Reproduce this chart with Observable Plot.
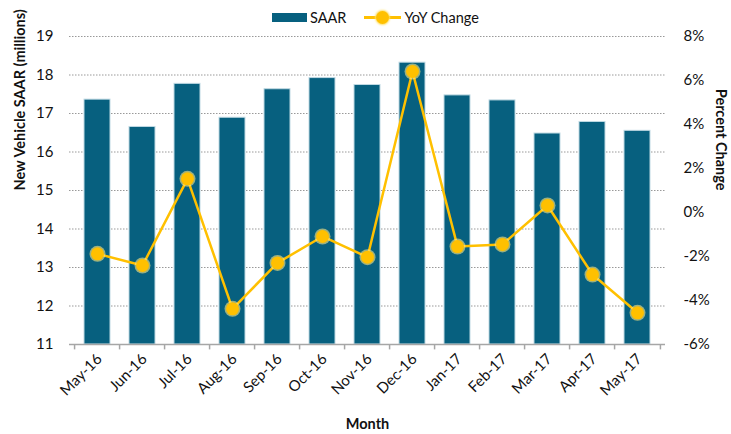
<!DOCTYPE html>
<html>
<head>
<meta charset="utf-8">
<script src="https://cdn.jsdelivr.net/npm/d3@7"></script>
<script src="https://cdn.jsdelivr.net/npm/@observablehq/plot@0.6"></script>
<style>
  html, body { margin: 0; padding: 0; background: #fff; }
  #wrap { position: relative; width: 731px; height: 434px; font-family: Lato, "Open Sans", sans-serif; }
  #legend { position: absolute; top: 9px; left: 272px; display: flex; align-items: center; font-size: 14.5px; color: #111; }
  .sw { display: inline-block; width: 35px; height: 9px; background: #07607F; margin-right: 3px; }
  .ln { position: relative; display: inline-block; width: 37px; height: 2.5px; background: #FFC000; margin-left: 18px; margin-right: 3px; }
  .ln::after { content: ""; position: absolute; left: 12px; top: -5.5px; width: 13px; height: 13px; border-radius: 50%; background: #FFC000; box-shadow: 0 0 2px 1px #FFE066; }
  svg { overflow: visible; }
</style>
</head>
<body>
<div id="wrap">
  <div id="legend"><span class="sw"></span><span>SAAR</span><span class="ln"></span><span>YoY Change</span></div>
  <div id="chart"></div>
</div>
<script>
const months = ["May-16","Jun-16","Jul-16","Aug-16","Sep-16","Oct-16","Nov-16","Dec-16","Jan-17","Feb-17","Mar-17","Apr-17","May-17"];
const saar = [17.36, 16.65, 17.77, 16.89, 17.63, 17.92, 17.74, 18.32, 17.47, 17.34, 16.48, 16.78, 16.55];
const yoy = [-1.88, -2.41, 1.53, -4.38, -2.29, -1.09, -2.03, 6.41, -1.55, -1.45, 0.32, -2.82, -4.56];
const leftTicks = [11, 12, 13, 14, 15, 16, 17, 18, 19];
const rightTicks = [-6, -4, -2, 0, 2, 4, 6, 8];

const yMin = 11, yMax = 19, pMin = -6, pMax = 8;
const toY = p => yMin + (p - pMin) * (yMax - yMin) / (pMax - pMin);
const fromY = v => pMin + (v - yMin) * (pMax - pMin) / (yMax - yMin);

const data = months.map((m, i) => ({month: m, saar: saar[i], yoy: yoy[i], yy: toY(yoy[i])}));

const W = 731, H = 434, mL = 69, mR = 66, mT = 36, mB = 90;
const step = (W - mL - mR) / months.length;
const font = "Lato, 'Open Sans', sans-serif";

const chart = Plot.plot({
  width: W,
  height: H,
  marginLeft: mL,
  marginRight: mR,
  marginTop: mT,
  marginBottom: mB,
  style: {fontFamily: font, color: "#111", background: "transparent", overflow: "visible"},
  x: {domain: months, paddingInner: 0.43, paddingOuter: 0.215, label: null},
  y: {domain: [yMin, yMax], label: null},
  marks: [
    Plot.ruleY(leftTicks.filter(t => t > yMin), {y: d => d, stroke: "#999", strokeWidth: 1, strokeDasharray: "1.5,1.5"}),
    Plot.barY(data, {x: "month", y1: yMin, y2: "saar", fill: "#07607F", stroke: "#BFD9E3", strokeWidth: 1}),
    Plot.ruleY([yMin], {stroke: "#A6A6A6", strokeWidth: 1.5}),
    Plot.ruleX(months, {x: d => d, dx: -step / 2, y1: yMin, y2: yMin - 0.14, stroke: "#A6A6A6", strokeWidth: 1.5}),
    Plot.ruleX(months.slice(-1), {x: d => d, dx: step / 2, y1: yMin, y2: yMin - 0.14, stroke: "#A6A6A6", strokeWidth: 1.5}),
    Plot.lineY(data, {x: "month", y: "yy", stroke: "#FFC000", strokeWidth: 2.5}),
    Plot.dot(data, {x: "month", y: "yy", r: 8, fill: "#FFE680", fillOpacity: 0.6}),
    Plot.dot(data, {x: "month", y: "yy", r: 6.5, fill: "#FFC000"}),
    Plot.axisY(leftTicks, {anchor: "left", tickSize: 0, tickPadding: 16, fontSize: 15, label: null}),
    Plot.axisY(rightTicks.map(toY), {anchor: "right", tickSize: 0, tickPadding: 18, fontSize: 15, label: null, tickFormat: v => Math.round(fromY(v)) + "%"}),
    Plot.axisX({anchor: "bottom", tickSize: 0, tickPadding: 12, tickRotate: -45, fontSize: 15, label: null, textAnchor: "end", dx: 2}),
    Plot.text(["New Vehicle SAAR (millions)"], {frameAnchor: "left", text: d => d, rotate: -90, dx: -49, fontSize: 14.5, fontWeight: "bold"}),
    Plot.text(["Percent Change"], {frameAnchor: "right", text: d => d, rotate: 90, dx: 55, fontSize: 14.5, fontWeight: "bold"}),
    Plot.text(["Month"], {frameAnchor: "bottom", text: d => d, dy: 84, fontSize: 14.5, fontWeight: "bold"})
  ]
});
document.getElementById("chart").append(chart);
</script>
</body>
</html>
